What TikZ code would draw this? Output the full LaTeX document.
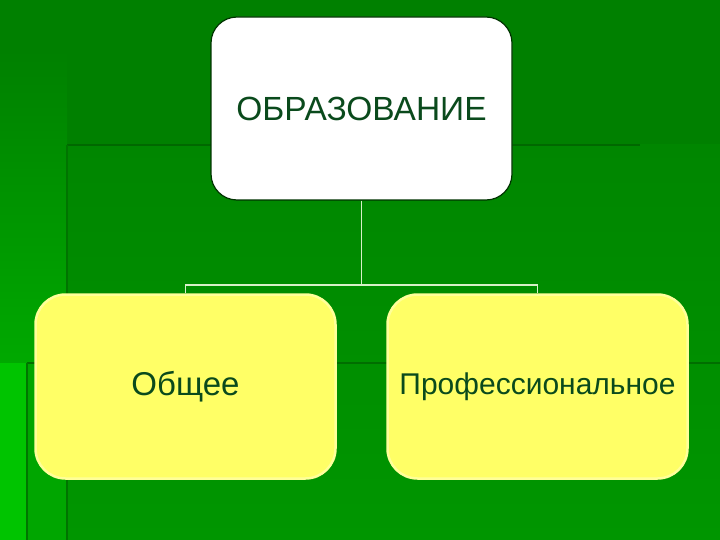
\documentclass[tikz,border=0pt]{standalone}
\usepackage{fontspec}
\setmainfont{Liberation Sans}
\begin{document}
\begin{tikzpicture}[x=1pt,y=-1pt,
  txt/.style={text=textgreen},
  topbox/.style={rectangle,rounded corners=26pt,fill=white,draw=black!80!green,line width=1.2pt,
    minimum width=301pt,minimum height=183pt,inner sep=0pt,txt},
  ybox/.style={rectangle,rounded corners=30pt,fill=boxyellow,draw=rimyellow,line width=2.5pt,
    minimum width=300pt,minimum height=184pt,inner sep=0pt,txt},
  conn/.style={draw=linepale,line width=1.8pt}]
\definecolor{textgreen}{HTML}{0A4A1C}
\definecolor{boxyellow}{HTML}{FFFF66}
\definecolor{rimyellow}{HTML}{FFFF99}
\definecolor{linepale}{HTML}{D8F0C8}
\useasboundingbox (0,0) rectangle (720,540);
% background
\fill[color={rgb,255:red,0;green,128;blue,0}] (0,0) rectangle (720,540);
\shade[top color={rgb,255:red,0;green,128;blue,0},bottom color={rgb,255:red,0;green,192;blue,0}] (0,50) rectangle (67,540);
\shade[top color={rgb,255:red,0;green,134;blue,0},bottom color={rgb,255:red,0;green,150;blue,0}] (67,145) rectangle (720,540);
\fill[color={rgb,255:red,0;green,196;blue,0}] (0,363) rectangle (27,540);
\fill[color={rgb,255:red,0;green,166;blue,0}] (27,363) rectangle (67,540);
\draw[color={rgb,255:red,0;green,104;blue,0},line width=2pt] (67,145) -- (640,145);
\draw[color={rgb,255:red,0;green,116;blue,0},line width=2pt] (67,145) -- (67,540);
\draw[color={rgb,255:red,0;green,110;blue,0},line width=2pt] (27,363) -- (720,363);
\draw[color={rgb,255:red,0;green,118;blue,0},line width=2.5pt] (27,363) -- (27,540);
% nodes
\node[topbox,font=\fontsize{33.5}{40}\selectfont] (top) at (361.5,108.5) {ОБРАЗОВАНИЕ};
\node[ybox,font=\fontsize{33}{40}\selectfont] (gen) at (185.5,386.5) {Общее};
\node[ybox,font=\fontsize{30}{36}\selectfont] (prof) at (537.5,386.5) {Профессиональное};
% connectors
\coordinate (j) at (361.5,286);
\draw[conn] (top.south) -- (j);
\draw[conn] (gen.north) -- ++(0,-8) -| (prof.north);
\end{tikzpicture}
\end{document}
